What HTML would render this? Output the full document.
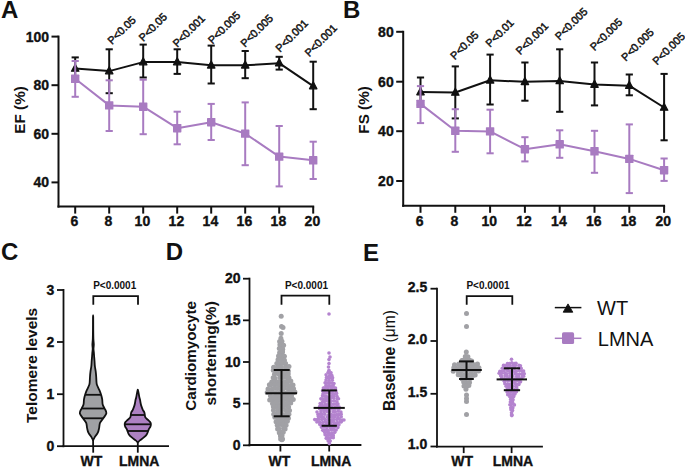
<!DOCTYPE html><html><head><meta charset="utf-8"><style>html,body{margin:0;padding:0;background:#fff;}svg{display:block;}</style></head><body><svg width="685" height="467" viewBox="0 0 685 467" font-family='"Liberation Sans", sans-serif' fill="#111">
<rect width="685" height="467" fill="#fff"/>
<text x="1.00" y="17.85" font-size="24" font-weight="bold" text-anchor="start" >A</text>
<line x1="58.50" y1="35.60" x2="58.50" y2="207.60" stroke="#111" stroke-width="2" stroke-linecap="butt"/>
<line x1="51.50" y1="36.60" x2="58.50" y2="36.60" stroke="#111" stroke-width="2" stroke-linecap="butt"/>
<text x="49.00" y="41.60" font-size="14" font-weight="bold" text-anchor="end" stroke="#111" stroke-width="0.35" >100</text>
<line x1="51.50" y1="85.20" x2="58.50" y2="85.20" stroke="#111" stroke-width="2" stroke-linecap="butt"/>
<text x="49.00" y="90.20" font-size="14" font-weight="bold" text-anchor="end" stroke="#111" stroke-width="0.35" >80</text>
<line x1="51.50" y1="133.80" x2="58.50" y2="133.80" stroke="#111" stroke-width="2" stroke-linecap="butt"/>
<text x="49.00" y="138.80" font-size="14" font-weight="bold" text-anchor="end" stroke="#111" stroke-width="0.35" >60</text>
<line x1="51.50" y1="182.40" x2="58.50" y2="182.40" stroke="#111" stroke-width="2" stroke-linecap="butt"/>
<text x="49.00" y="187.40" font-size="14" font-weight="bold" text-anchor="end" stroke="#111" stroke-width="0.35" >40</text>
<line x1="57.50" y1="206.60" x2="314.20" y2="206.60" stroke="#111" stroke-width="2" stroke-linecap="butt"/>
<line x1="75.20" y1="206.60" x2="75.20" y2="213.60" stroke="#111" stroke-width="2" stroke-linecap="butt"/>
<text x="74.40" y="226.40" font-size="14" font-weight="bold" text-anchor="middle" stroke="#111" stroke-width="0.35" >6</text>
<line x1="109.20" y1="206.60" x2="109.20" y2="213.60" stroke="#111" stroke-width="2" stroke-linecap="butt"/>
<text x="108.40" y="226.40" font-size="14" font-weight="bold" text-anchor="middle" stroke="#111" stroke-width="0.35" >8</text>
<line x1="143.20" y1="206.60" x2="143.20" y2="213.60" stroke="#111" stroke-width="2" stroke-linecap="butt"/>
<text x="142.40" y="226.40" font-size="14" font-weight="bold" text-anchor="middle" stroke="#111" stroke-width="0.35" >10</text>
<line x1="177.20" y1="206.60" x2="177.20" y2="213.60" stroke="#111" stroke-width="2" stroke-linecap="butt"/>
<text x="176.40" y="226.40" font-size="14" font-weight="bold" text-anchor="middle" stroke="#111" stroke-width="0.35" >12</text>
<line x1="211.20" y1="206.60" x2="211.20" y2="213.60" stroke="#111" stroke-width="2" stroke-linecap="butt"/>
<text x="210.40" y="226.40" font-size="14" font-weight="bold" text-anchor="middle" stroke="#111" stroke-width="0.35" >14</text>
<line x1="245.20" y1="206.60" x2="245.20" y2="213.60" stroke="#111" stroke-width="2" stroke-linecap="butt"/>
<text x="244.40" y="226.40" font-size="14" font-weight="bold" text-anchor="middle" stroke="#111" stroke-width="0.35" >16</text>
<line x1="279.20" y1="206.60" x2="279.20" y2="213.60" stroke="#111" stroke-width="2" stroke-linecap="butt"/>
<text x="278.40" y="226.40" font-size="14" font-weight="bold" text-anchor="middle" stroke="#111" stroke-width="0.35" >18</text>
<line x1="313.20" y1="206.60" x2="313.20" y2="213.60" stroke="#111" stroke-width="2" stroke-linecap="butt"/>
<text x="312.40" y="226.40" font-size="14" font-weight="bold" text-anchor="middle" stroke="#111" stroke-width="0.35" >20</text>
<text transform="translate(25.30,109.90) rotate(-90)" font-size="15.3" font-weight="bold" text-anchor="middle">EF (%)</text>
<line x1="75.20" y1="57.40" x2="75.20" y2="78.00" stroke="#111" stroke-width="2" stroke-linecap="butt"/>
<line x1="71.60" y1="57.40" x2="78.80" y2="57.40" stroke="#111" stroke-width="2" stroke-linecap="butt"/>
<line x1="71.60" y1="78.00" x2="78.80" y2="78.00" stroke="#111" stroke-width="2" stroke-linecap="butt"/>
<line x1="109.20" y1="49.30" x2="109.20" y2="93.20" stroke="#111" stroke-width="2" stroke-linecap="butt"/>
<line x1="105.60" y1="49.30" x2="112.80" y2="49.30" stroke="#111" stroke-width="2" stroke-linecap="butt"/>
<line x1="105.60" y1="93.20" x2="112.80" y2="93.20" stroke="#111" stroke-width="2" stroke-linecap="butt"/>
<line x1="143.20" y1="44.60" x2="143.20" y2="77.50" stroke="#111" stroke-width="2" stroke-linecap="butt"/>
<line x1="139.60" y1="44.60" x2="146.80" y2="44.60" stroke="#111" stroke-width="2" stroke-linecap="butt"/>
<line x1="139.60" y1="77.50" x2="146.80" y2="77.50" stroke="#111" stroke-width="2" stroke-linecap="butt"/>
<line x1="177.20" y1="49.30" x2="177.20" y2="73.90" stroke="#111" stroke-width="2" stroke-linecap="butt"/>
<line x1="173.60" y1="49.30" x2="180.80" y2="49.30" stroke="#111" stroke-width="2" stroke-linecap="butt"/>
<line x1="173.60" y1="73.90" x2="180.80" y2="73.90" stroke="#111" stroke-width="2" stroke-linecap="butt"/>
<line x1="211.20" y1="45.60" x2="211.20" y2="83.50" stroke="#111" stroke-width="2" stroke-linecap="butt"/>
<line x1="207.60" y1="45.60" x2="214.80" y2="45.60" stroke="#111" stroke-width="2" stroke-linecap="butt"/>
<line x1="207.60" y1="83.50" x2="214.80" y2="83.50" stroke="#111" stroke-width="2" stroke-linecap="butt"/>
<line x1="245.20" y1="51.00" x2="245.20" y2="78.20" stroke="#111" stroke-width="2" stroke-linecap="butt"/>
<line x1="241.60" y1="51.00" x2="248.80" y2="51.00" stroke="#111" stroke-width="2" stroke-linecap="butt"/>
<line x1="241.60" y1="78.20" x2="248.80" y2="78.20" stroke="#111" stroke-width="2" stroke-linecap="butt"/>
<line x1="279.20" y1="56.80" x2="279.20" y2="69.60" stroke="#111" stroke-width="2" stroke-linecap="butt"/>
<line x1="275.60" y1="56.80" x2="282.80" y2="56.80" stroke="#111" stroke-width="2" stroke-linecap="butt"/>
<line x1="275.60" y1="69.60" x2="282.80" y2="69.60" stroke="#111" stroke-width="2" stroke-linecap="butt"/>
<line x1="313.20" y1="61.70" x2="313.20" y2="109.20" stroke="#111" stroke-width="2" stroke-linecap="butt"/>
<line x1="309.60" y1="61.70" x2="316.80" y2="61.70" stroke="#111" stroke-width="2" stroke-linecap="butt"/>
<line x1="309.60" y1="109.20" x2="316.80" y2="109.20" stroke="#111" stroke-width="2" stroke-linecap="butt"/>
<polyline points="75.20,68.50 109.20,71.10 143.20,62.10 177.20,62.10 211.20,65.30 245.20,65.30 279.20,63.20 313.20,86.10" fill="none" stroke="#111" stroke-width="2" stroke-linejoin="round"/>
<path d="M71.50,71.20 L78.90,71.20 L75.20,64.20 Z" fill="#111" stroke="#111" stroke-width="1.3" stroke-linejoin="round"/>
<path d="M105.50,73.80 L112.90,73.80 L109.20,66.80 Z" fill="#111" stroke="#111" stroke-width="1.3" stroke-linejoin="round"/>
<path d="M139.50,64.80 L146.90,64.80 L143.20,57.80 Z" fill="#111" stroke="#111" stroke-width="1.3" stroke-linejoin="round"/>
<path d="M173.50,64.80 L180.90,64.80 L177.20,57.80 Z" fill="#111" stroke="#111" stroke-width="1.3" stroke-linejoin="round"/>
<path d="M207.50,68.00 L214.90,68.00 L211.20,61.00 Z" fill="#111" stroke="#111" stroke-width="1.3" stroke-linejoin="round"/>
<path d="M241.50,68.00 L248.90,68.00 L245.20,61.00 Z" fill="#111" stroke="#111" stroke-width="1.3" stroke-linejoin="round"/>
<path d="M275.50,65.90 L282.90,65.90 L279.20,58.90 Z" fill="#111" stroke="#111" stroke-width="1.3" stroke-linejoin="round"/>
<path d="M309.50,88.80 L316.90,88.80 L313.20,81.80 Z" fill="#111" stroke="#111" stroke-width="1.3" stroke-linejoin="round"/>
<line x1="75.20" y1="61.00" x2="75.20" y2="96.80" stroke="#a87bc1" stroke-width="2" stroke-linecap="butt"/>
<line x1="71.60" y1="61.00" x2="78.80" y2="61.00" stroke="#a87bc1" stroke-width="2" stroke-linecap="butt"/>
<line x1="71.60" y1="96.80" x2="78.80" y2="96.80" stroke="#a87bc1" stroke-width="2" stroke-linecap="butt"/>
<line x1="109.20" y1="80.30" x2="109.20" y2="131.00" stroke="#a87bc1" stroke-width="2" stroke-linecap="butt"/>
<line x1="105.60" y1="80.30" x2="112.80" y2="80.30" stroke="#a87bc1" stroke-width="2" stroke-linecap="butt"/>
<line x1="105.60" y1="131.00" x2="112.80" y2="131.00" stroke="#a87bc1" stroke-width="2" stroke-linecap="butt"/>
<line x1="143.20" y1="79.70" x2="143.20" y2="134.20" stroke="#a87bc1" stroke-width="2" stroke-linecap="butt"/>
<line x1="139.60" y1="79.70" x2="146.80" y2="79.70" stroke="#a87bc1" stroke-width="2" stroke-linecap="butt"/>
<line x1="139.60" y1="134.20" x2="146.80" y2="134.20" stroke="#a87bc1" stroke-width="2" stroke-linecap="butt"/>
<line x1="177.20" y1="111.70" x2="177.20" y2="144.30" stroke="#a87bc1" stroke-width="2" stroke-linecap="butt"/>
<line x1="173.60" y1="111.70" x2="180.80" y2="111.70" stroke="#a87bc1" stroke-width="2" stroke-linecap="butt"/>
<line x1="173.60" y1="144.30" x2="180.80" y2="144.30" stroke="#a87bc1" stroke-width="2" stroke-linecap="butt"/>
<line x1="211.20" y1="103.90" x2="211.20" y2="140.00" stroke="#a87bc1" stroke-width="2" stroke-linecap="butt"/>
<line x1="207.60" y1="103.90" x2="214.80" y2="103.90" stroke="#a87bc1" stroke-width="2" stroke-linecap="butt"/>
<line x1="207.60" y1="140.00" x2="214.80" y2="140.00" stroke="#a87bc1" stroke-width="2" stroke-linecap="butt"/>
<line x1="245.20" y1="102.40" x2="245.20" y2="165.20" stroke="#a87bc1" stroke-width="2" stroke-linecap="butt"/>
<line x1="241.60" y1="102.40" x2="248.80" y2="102.40" stroke="#a87bc1" stroke-width="2" stroke-linecap="butt"/>
<line x1="241.60" y1="165.20" x2="248.80" y2="165.20" stroke="#a87bc1" stroke-width="2" stroke-linecap="butt"/>
<line x1="279.20" y1="126.00" x2="279.20" y2="186.40" stroke="#a87bc1" stroke-width="2" stroke-linecap="butt"/>
<line x1="275.60" y1="126.00" x2="282.80" y2="126.00" stroke="#a87bc1" stroke-width="2" stroke-linecap="butt"/>
<line x1="275.60" y1="186.40" x2="282.80" y2="186.40" stroke="#a87bc1" stroke-width="2" stroke-linecap="butt"/>
<line x1="313.20" y1="141.70" x2="313.20" y2="179.00" stroke="#a87bc1" stroke-width="2" stroke-linecap="butt"/>
<line x1="309.60" y1="141.70" x2="316.80" y2="141.70" stroke="#a87bc1" stroke-width="2" stroke-linecap="butt"/>
<line x1="309.60" y1="179.00" x2="316.80" y2="179.00" stroke="#a87bc1" stroke-width="2" stroke-linecap="butt"/>
<polyline points="75.20,78.80 109.20,105.40 143.20,106.70 177.20,128.20 211.20,122.20 245.20,133.60 279.20,156.60 313.20,160.30" fill="none" stroke="#a87bc1" stroke-width="2" stroke-linejoin="round"/>
<rect x="71.00" y="74.60" width="8.4" height="8.4" fill="#a87bc1" rx="0.6"/>
<rect x="105.00" y="101.20" width="8.4" height="8.4" fill="#a87bc1" rx="0.6"/>
<rect x="139.00" y="102.50" width="8.4" height="8.4" fill="#a87bc1" rx="0.6"/>
<rect x="173.00" y="124.00" width="8.4" height="8.4" fill="#a87bc1" rx="0.6"/>
<rect x="207.00" y="118.00" width="8.4" height="8.4" fill="#a87bc1" rx="0.6"/>
<rect x="241.00" y="129.40" width="8.4" height="8.4" fill="#a87bc1" rx="0.6"/>
<rect x="275.00" y="152.40" width="8.4" height="8.4" fill="#a87bc1" rx="0.6"/>
<rect x="309.00" y="156.10" width="8.4" height="8.4" fill="#a87bc1" rx="0.6"/>
<text transform="translate(112.00,45.10) rotate(-45)" font-size="10.8" font-weight="normal" stroke="#111" stroke-width="0.5">P&lt;0.05</text>
<text transform="translate(143.30,42.00) rotate(-45)" font-size="10.8" font-weight="normal" stroke="#111" stroke-width="0.5">P&lt;0.05</text>
<text transform="translate(177.20,47.80) rotate(-45)" font-size="10.8" font-weight="normal" stroke="#111" stroke-width="0.5">P&lt;0.001</text>
<text transform="translate(212.40,44.60) rotate(-45)" font-size="10.8" font-weight="normal" stroke="#111" stroke-width="0.5">P&lt;0.005</text>
<text transform="translate(245.00,47.70) rotate(-45)" font-size="10.8" font-weight="normal" stroke="#111" stroke-width="0.5">P&lt;0.005</text>
<text transform="translate(280.10,52.70) rotate(-45)" font-size="10.8" font-weight="normal" stroke="#111" stroke-width="0.5">P&lt;0.001</text>
<text transform="translate(309.20,57.30) rotate(-45)" font-size="10.8" font-weight="normal" stroke="#111" stroke-width="0.5">P&lt;0.001</text>
<text x="342.90" y="17.80" font-size="24" font-weight="bold" text-anchor="start" >B</text>
<line x1="403.20" y1="30.80" x2="403.20" y2="206.80" stroke="#111" stroke-width="2" stroke-linecap="butt"/>
<line x1="396.20" y1="31.80" x2="403.20" y2="31.80" stroke="#111" stroke-width="2" stroke-linecap="butt"/>
<text x="393.70" y="36.80" font-size="14" font-weight="bold" text-anchor="end" stroke="#111" stroke-width="0.35" >80</text>
<line x1="396.20" y1="81.70" x2="403.20" y2="81.70" stroke="#111" stroke-width="2" stroke-linecap="butt"/>
<text x="393.70" y="86.70" font-size="14" font-weight="bold" text-anchor="end" stroke="#111" stroke-width="0.35" >60</text>
<line x1="396.20" y1="131.20" x2="403.20" y2="131.20" stroke="#111" stroke-width="2" stroke-linecap="butt"/>
<text x="393.70" y="136.20" font-size="14" font-weight="bold" text-anchor="end" stroke="#111" stroke-width="0.35" >40</text>
<line x1="396.20" y1="181.00" x2="403.20" y2="181.00" stroke="#111" stroke-width="2" stroke-linecap="butt"/>
<text x="393.70" y="186.00" font-size="14" font-weight="bold" text-anchor="end" stroke="#111" stroke-width="0.35" >20</text>
<line x1="402.20" y1="205.80" x2="665.10" y2="205.80" stroke="#111" stroke-width="2" stroke-linecap="butt"/>
<line x1="420.50" y1="205.80" x2="420.50" y2="212.80" stroke="#111" stroke-width="2" stroke-linecap="butt"/>
<text x="419.70" y="225.60" font-size="14" font-weight="bold" text-anchor="middle" stroke="#111" stroke-width="0.35" >6</text>
<line x1="455.30" y1="205.80" x2="455.30" y2="212.80" stroke="#111" stroke-width="2" stroke-linecap="butt"/>
<text x="454.50" y="225.60" font-size="14" font-weight="bold" text-anchor="middle" stroke="#111" stroke-width="0.35" >8</text>
<line x1="490.10" y1="205.80" x2="490.10" y2="212.80" stroke="#111" stroke-width="2" stroke-linecap="butt"/>
<text x="489.30" y="225.60" font-size="14" font-weight="bold" text-anchor="middle" stroke="#111" stroke-width="0.35" >10</text>
<line x1="524.90" y1="205.80" x2="524.90" y2="212.80" stroke="#111" stroke-width="2" stroke-linecap="butt"/>
<text x="524.10" y="225.60" font-size="14" font-weight="bold" text-anchor="middle" stroke="#111" stroke-width="0.35" >12</text>
<line x1="559.70" y1="205.80" x2="559.70" y2="212.80" stroke="#111" stroke-width="2" stroke-linecap="butt"/>
<text x="558.90" y="225.60" font-size="14" font-weight="bold" text-anchor="middle" stroke="#111" stroke-width="0.35" >14</text>
<line x1="594.50" y1="205.80" x2="594.50" y2="212.80" stroke="#111" stroke-width="2" stroke-linecap="butt"/>
<text x="593.70" y="225.60" font-size="14" font-weight="bold" text-anchor="middle" stroke="#111" stroke-width="0.35" >16</text>
<line x1="629.30" y1="205.80" x2="629.30" y2="212.80" stroke="#111" stroke-width="2" stroke-linecap="butt"/>
<text x="628.50" y="225.60" font-size="14" font-weight="bold" text-anchor="middle" stroke="#111" stroke-width="0.35" >18</text>
<line x1="664.10" y1="205.80" x2="664.10" y2="212.80" stroke="#111" stroke-width="2" stroke-linecap="butt"/>
<text x="663.30" y="225.60" font-size="14" font-weight="bold" text-anchor="middle" stroke="#111" stroke-width="0.35" >20</text>
<text transform="translate(369.30,109.90) rotate(-90)" font-size="15.3" font-weight="bold" text-anchor="middle">FS (%)</text>
<line x1="420.50" y1="77.50" x2="420.50" y2="105.00" stroke="#111" stroke-width="2" stroke-linecap="butt"/>
<line x1="416.90" y1="77.50" x2="424.10" y2="77.50" stroke="#111" stroke-width="2" stroke-linecap="butt"/>
<line x1="416.90" y1="105.00" x2="424.10" y2="105.00" stroke="#111" stroke-width="2" stroke-linecap="butt"/>
<line x1="455.30" y1="66.40" x2="455.30" y2="118.40" stroke="#111" stroke-width="2" stroke-linecap="butt"/>
<line x1="451.70" y1="66.40" x2="458.90" y2="66.40" stroke="#111" stroke-width="2" stroke-linecap="butt"/>
<line x1="451.70" y1="118.40" x2="458.90" y2="118.40" stroke="#111" stroke-width="2" stroke-linecap="butt"/>
<line x1="490.10" y1="54.60" x2="490.10" y2="104.50" stroke="#111" stroke-width="2" stroke-linecap="butt"/>
<line x1="486.50" y1="54.60" x2="493.70" y2="54.60" stroke="#111" stroke-width="2" stroke-linecap="butt"/>
<line x1="486.50" y1="104.50" x2="493.70" y2="104.50" stroke="#111" stroke-width="2" stroke-linecap="butt"/>
<line x1="524.90" y1="62.50" x2="524.90" y2="100.70" stroke="#111" stroke-width="2" stroke-linecap="butt"/>
<line x1="521.30" y1="62.50" x2="528.50" y2="62.50" stroke="#111" stroke-width="2" stroke-linecap="butt"/>
<line x1="521.30" y1="100.70" x2="528.50" y2="100.70" stroke="#111" stroke-width="2" stroke-linecap="butt"/>
<line x1="559.70" y1="49.30" x2="559.70" y2="111.80" stroke="#111" stroke-width="2" stroke-linecap="butt"/>
<line x1="556.10" y1="49.30" x2="563.30" y2="49.30" stroke="#111" stroke-width="2" stroke-linecap="butt"/>
<line x1="556.10" y1="111.80" x2="563.30" y2="111.80" stroke="#111" stroke-width="2" stroke-linecap="butt"/>
<line x1="594.50" y1="62.50" x2="594.50" y2="105.40" stroke="#111" stroke-width="2" stroke-linecap="butt"/>
<line x1="590.90" y1="62.50" x2="598.10" y2="62.50" stroke="#111" stroke-width="2" stroke-linecap="butt"/>
<line x1="590.90" y1="105.40" x2="598.10" y2="105.40" stroke="#111" stroke-width="2" stroke-linecap="butt"/>
<line x1="629.30" y1="74.50" x2="629.30" y2="95.30" stroke="#111" stroke-width="2" stroke-linecap="butt"/>
<line x1="625.70" y1="74.50" x2="632.90" y2="74.50" stroke="#111" stroke-width="2" stroke-linecap="butt"/>
<line x1="625.70" y1="95.30" x2="632.90" y2="95.30" stroke="#111" stroke-width="2" stroke-linecap="butt"/>
<line x1="664.10" y1="73.90" x2="664.10" y2="140.30" stroke="#111" stroke-width="2" stroke-linecap="butt"/>
<line x1="660.50" y1="73.90" x2="667.70" y2="73.90" stroke="#111" stroke-width="2" stroke-linecap="butt"/>
<line x1="660.50" y1="140.30" x2="667.70" y2="140.30" stroke="#111" stroke-width="2" stroke-linecap="butt"/>
<polyline points="420.50,92.10 455.30,92.50 490.10,80.30 524.90,81.80 559.70,81.00 594.50,84.60 629.30,85.70 664.10,107.50" fill="none" stroke="#111" stroke-width="2" stroke-linejoin="round"/>
<path d="M416.80,94.80 L424.20,94.80 L420.50,87.80 Z" fill="#111" stroke="#111" stroke-width="1.3" stroke-linejoin="round"/>
<path d="M451.60,95.20 L459.00,95.20 L455.30,88.20 Z" fill="#111" stroke="#111" stroke-width="1.3" stroke-linejoin="round"/>
<path d="M486.40,83.00 L493.80,83.00 L490.10,76.00 Z" fill="#111" stroke="#111" stroke-width="1.3" stroke-linejoin="round"/>
<path d="M521.20,84.50 L528.60,84.50 L524.90,77.50 Z" fill="#111" stroke="#111" stroke-width="1.3" stroke-linejoin="round"/>
<path d="M556.00,83.70 L563.40,83.70 L559.70,76.70 Z" fill="#111" stroke="#111" stroke-width="1.3" stroke-linejoin="round"/>
<path d="M590.80,87.30 L598.20,87.30 L594.50,80.30 Z" fill="#111" stroke="#111" stroke-width="1.3" stroke-linejoin="round"/>
<path d="M625.60,88.40 L633.00,88.40 L629.30,81.40 Z" fill="#111" stroke="#111" stroke-width="1.3" stroke-linejoin="round"/>
<path d="M660.40,110.20 L667.80,110.20 L664.10,103.20 Z" fill="#111" stroke="#111" stroke-width="1.3" stroke-linejoin="round"/>
<line x1="420.50" y1="86.10" x2="420.50" y2="123.10" stroke="#a87bc1" stroke-width="2" stroke-linecap="butt"/>
<line x1="416.90" y1="86.10" x2="424.10" y2="86.10" stroke="#a87bc1" stroke-width="2" stroke-linecap="butt"/>
<line x1="416.90" y1="123.10" x2="424.10" y2="123.10" stroke="#a87bc1" stroke-width="2" stroke-linecap="butt"/>
<line x1="455.30" y1="109.20" x2="455.30" y2="151.80" stroke="#a87bc1" stroke-width="2" stroke-linecap="butt"/>
<line x1="451.70" y1="109.20" x2="458.90" y2="109.20" stroke="#a87bc1" stroke-width="2" stroke-linecap="butt"/>
<line x1="451.70" y1="151.80" x2="458.90" y2="151.80" stroke="#a87bc1" stroke-width="2" stroke-linecap="butt"/>
<line x1="490.10" y1="109.70" x2="490.10" y2="153.30" stroke="#a87bc1" stroke-width="2" stroke-linecap="butt"/>
<line x1="486.50" y1="109.70" x2="493.70" y2="109.70" stroke="#a87bc1" stroke-width="2" stroke-linecap="butt"/>
<line x1="486.50" y1="153.30" x2="493.70" y2="153.30" stroke="#a87bc1" stroke-width="2" stroke-linecap="butt"/>
<line x1="524.90" y1="137.20" x2="524.90" y2="161.40" stroke="#a87bc1" stroke-width="2" stroke-linecap="butt"/>
<line x1="521.30" y1="137.20" x2="528.50" y2="137.20" stroke="#a87bc1" stroke-width="2" stroke-linecap="butt"/>
<line x1="521.30" y1="161.40" x2="528.50" y2="161.40" stroke="#a87bc1" stroke-width="2" stroke-linecap="butt"/>
<line x1="559.70" y1="130.30" x2="559.70" y2="157.80" stroke="#a87bc1" stroke-width="2" stroke-linecap="butt"/>
<line x1="556.10" y1="130.30" x2="563.30" y2="130.30" stroke="#a87bc1" stroke-width="2" stroke-linecap="butt"/>
<line x1="556.10" y1="157.80" x2="563.30" y2="157.80" stroke="#a87bc1" stroke-width="2" stroke-linecap="butt"/>
<line x1="594.50" y1="130.80" x2="594.50" y2="172.80" stroke="#a87bc1" stroke-width="2" stroke-linecap="butt"/>
<line x1="590.90" y1="130.80" x2="598.10" y2="130.80" stroke="#a87bc1" stroke-width="2" stroke-linecap="butt"/>
<line x1="590.90" y1="172.80" x2="598.10" y2="172.80" stroke="#a87bc1" stroke-width="2" stroke-linecap="butt"/>
<line x1="629.30" y1="124.40" x2="629.30" y2="193.10" stroke="#a87bc1" stroke-width="2" stroke-linecap="butt"/>
<line x1="625.70" y1="124.40" x2="632.90" y2="124.40" stroke="#a87bc1" stroke-width="2" stroke-linecap="butt"/>
<line x1="625.70" y1="193.10" x2="632.90" y2="193.10" stroke="#a87bc1" stroke-width="2" stroke-linecap="butt"/>
<line x1="664.10" y1="158.50" x2="664.10" y2="180.90" stroke="#a87bc1" stroke-width="2" stroke-linecap="butt"/>
<line x1="660.50" y1="158.50" x2="667.70" y2="158.50" stroke="#a87bc1" stroke-width="2" stroke-linecap="butt"/>
<line x1="660.50" y1="180.90" x2="667.70" y2="180.90" stroke="#a87bc1" stroke-width="2" stroke-linecap="butt"/>
<polyline points="420.50,103.90 455.30,130.80 490.10,131.40 524.90,149.20 559.70,144.30 594.50,151.30 629.30,158.90 664.10,170.20" fill="none" stroke="#a87bc1" stroke-width="2" stroke-linejoin="round"/>
<rect x="416.30" y="99.70" width="8.4" height="8.4" fill="#a87bc1" rx="0.6"/>
<rect x="451.10" y="126.60" width="8.4" height="8.4" fill="#a87bc1" rx="0.6"/>
<rect x="485.90" y="127.20" width="8.4" height="8.4" fill="#a87bc1" rx="0.6"/>
<rect x="520.70" y="145.00" width="8.4" height="8.4" fill="#a87bc1" rx="0.6"/>
<rect x="555.50" y="140.10" width="8.4" height="8.4" fill="#a87bc1" rx="0.6"/>
<rect x="590.30" y="147.10" width="8.4" height="8.4" fill="#a87bc1" rx="0.6"/>
<rect x="625.10" y="154.70" width="8.4" height="8.4" fill="#a87bc1" rx="0.6"/>
<rect x="659.90" y="166.00" width="8.4" height="8.4" fill="#a87bc1" rx="0.6"/>
<text transform="translate(454.80,60.20) rotate(-45)" font-size="10.8" font-weight="normal" stroke="#111" stroke-width="0.5">P&lt;0.05</text>
<text transform="translate(490.10,47.80) rotate(-45)" font-size="10.8" font-weight="normal" stroke="#111" stroke-width="0.5">P&lt;0.01</text>
<text transform="translate(520.30,55.30) rotate(-45)" font-size="10.8" font-weight="normal" stroke="#111" stroke-width="0.5">P&lt;0.001</text>
<text transform="translate(559.50,40.80) rotate(-45)" font-size="10.8" font-weight="normal" stroke="#111" stroke-width="0.5">P&lt;0.005</text>
<text transform="translate(594.40,51.30) rotate(-45)" font-size="10.8" font-weight="normal" stroke="#111" stroke-width="0.5">P&lt;0.005</text>
<text transform="translate(625.80,61.70) rotate(-45)" font-size="10.8" font-weight="normal" stroke="#111" stroke-width="0.5">P&lt;0.005</text>
<text transform="translate(657.00,65.60) rotate(-45)" font-size="10.8" font-weight="normal" stroke="#111" stroke-width="0.5">P&lt;0.005</text>
<text x="1.00" y="260.40" font-size="24" font-weight="bold" text-anchor="start" >C</text>
<line x1="63.50" y1="289.00" x2="63.50" y2="447.20" stroke="#111" stroke-width="1.8" stroke-linecap="butt"/>
<line x1="57.00" y1="290.00" x2="63.50" y2="290.00" stroke="#111" stroke-width="1.8" stroke-linecap="butt"/>
<text x="54.30" y="294.60" font-size="14" font-weight="bold" text-anchor="end" stroke="#111" stroke-width="0.35" >3</text>
<line x1="57.00" y1="342.00" x2="63.50" y2="342.00" stroke="#111" stroke-width="1.8" stroke-linecap="butt"/>
<text x="54.30" y="346.60" font-size="14" font-weight="bold" text-anchor="end" stroke="#111" stroke-width="0.35" >2</text>
<line x1="57.00" y1="394.20" x2="63.50" y2="394.20" stroke="#111" stroke-width="1.8" stroke-linecap="butt"/>
<text x="54.30" y="398.80" font-size="14" font-weight="bold" text-anchor="end" stroke="#111" stroke-width="0.35" >1</text>
<line x1="57.00" y1="446.20" x2="63.50" y2="446.20" stroke="#111" stroke-width="1.8" stroke-linecap="butt"/>
<text x="54.30" y="450.80" font-size="14" font-weight="bold" text-anchor="end" stroke="#111" stroke-width="0.35" >0</text>
<line x1="62.50" y1="446.20" x2="169.00" y2="446.20" stroke="#111" stroke-width="1.8" stroke-linecap="butt"/>
<line x1="93.20" y1="446.20" x2="93.20" y2="452.70" stroke="#111" stroke-width="1.8" stroke-linecap="butt"/>
<text x="91.50" y="465.80" font-size="14" font-weight="bold" text-anchor="middle" stroke="#111" stroke-width="0.35" >WT</text>
<line x1="137.80" y1="446.20" x2="137.80" y2="452.70" stroke="#111" stroke-width="1.8" stroke-linecap="butt"/>
<text x="139.20" y="465.80" font-size="14" font-weight="bold" text-anchor="middle" stroke="#111" stroke-width="0.35" >LMNA</text>
<text transform="translate(36.50,365.40) rotate(-90)" font-size="15.5" font-weight="bold" text-anchor="middle">Telomere levels</text>
<path d="M93.30,304.80 V296.20 H138.00 V304.80" fill="none" stroke="#111" stroke-width="1.8"/>
<text x="114.70" y="288.70" font-size="10" font-weight="bold" text-anchor="middle" >P&lt;0.0001</text>
<path d="M93.20,316.80 C93.24,319.00 93.22,326.30 93.25,330.00 C93.28,333.70 93.31,336.57 93.40,339.00 C93.49,341.43 93.78,342.93 93.80,344.60 C93.82,346.27 93.48,347.60 93.50,349.00 C93.52,350.40 93.80,351.83 93.90,353.00 C94.00,354.17 94.00,354.72 94.10,356.00 C94.20,357.28 94.38,359.03 94.50,360.70 C94.62,362.37 94.65,364.22 94.85,366.00 C95.05,367.78 95.47,369.62 95.70,371.40 C95.92,373.18 96.07,374.92 96.20,376.70 C96.33,378.48 96.37,380.72 96.50,382.10 C96.63,383.48 96.52,383.65 97.00,385.00 C97.48,386.35 98.72,388.57 99.40,390.20 C100.08,391.83 100.63,393.27 101.10,394.80 C101.57,396.33 101.93,397.77 102.20,399.40 C102.47,401.03 102.30,403.08 102.70,404.60 C103.10,406.12 103.98,407.08 104.60,408.50 C105.22,409.92 106.62,411.47 106.40,413.10 C106.18,414.73 104.37,416.67 103.30,418.30 C102.23,419.93 100.70,421.27 100.00,422.90 C99.30,424.53 99.47,426.47 99.10,428.10 C98.73,429.73 98.47,431.28 97.80,432.70 C97.13,434.12 95.85,435.40 95.10,436.60 C94.35,437.80 93.67,439.35 93.30,439.90 C92.93,440.45 93.27,440.45 92.90,439.90 C92.53,439.35 91.85,437.80 91.10,436.60 C90.35,435.40 89.07,434.12 88.40,432.70 C87.73,431.28 87.47,429.73 87.10,428.10 C86.73,426.47 86.90,424.53 86.20,422.90 C85.50,421.27 83.97,419.93 82.90,418.30 C81.83,416.67 80.02,414.73 79.80,413.10 C79.58,411.47 80.98,409.92 81.60,408.50 C82.22,407.08 83.10,406.12 83.50,404.60 C83.90,403.08 83.73,401.03 84.00,399.40 C84.27,397.77 84.63,396.33 85.10,394.80 C85.57,393.27 86.12,391.83 86.80,390.20 C87.48,388.57 88.72,386.35 89.20,385.00 C89.68,383.65 89.57,383.48 89.70,382.10 C89.83,380.72 89.87,378.48 90.00,376.70 C90.13,374.92 90.28,373.18 90.50,371.40 C90.72,369.62 91.15,367.78 91.35,366.00 C91.55,364.22 91.57,362.37 91.70,360.70 C91.82,359.03 92.00,357.28 92.10,356.00 C92.20,354.72 92.20,354.17 92.30,353.00 C92.40,351.83 92.68,350.40 92.70,349.00 C92.72,347.60 92.38,346.27 92.40,344.60 C92.42,342.93 92.71,341.43 92.80,339.00 C92.89,336.57 92.92,333.70 92.95,330.00 C92.98,326.30 92.96,319.00 93.00,316.80 C93.04,314.60 93.16,314.60 93.20,316.80Z" fill="#a0a1a4" stroke="#111" stroke-width="1.8" stroke-linejoin="round"/>
<line x1="85.20" y1="394.80" x2="101.00" y2="394.80" stroke="#111" stroke-width="1.8" stroke-linecap="butt"/>
<line x1="81.70" y1="408.50" x2="104.50" y2="408.50" stroke="#111" stroke-width="1.8" stroke-linecap="butt"/>
<line x1="83.00" y1="418.30" x2="103.20" y2="418.30" stroke="#111" stroke-width="1.8" stroke-linecap="butt"/>
<line x1="93.10" y1="439.90" x2="93.10" y2="446.20" stroke="#111" stroke-width="1.8" stroke-linecap="butt"/>
<path d="M137.90,390.00 C138.06,390.57 138.40,392.15 138.65,393.40 C138.90,394.65 139.16,396.40 139.40,397.50 C139.64,398.60 139.90,399.08 140.10,400.00 C140.30,400.92 140.40,402.02 140.60,403.00 C140.80,403.98 140.93,404.77 141.30,405.90 C141.67,407.03 142.30,408.73 142.80,409.80 C143.30,410.87 143.97,411.47 144.30,412.30 C144.63,413.13 144.63,413.98 144.80,414.80 C144.97,415.62 144.82,416.38 145.30,417.20 C145.78,418.02 146.88,418.88 147.70,419.70 C148.52,420.52 149.67,421.37 150.20,422.10 C150.73,422.83 150.87,423.35 150.90,424.10 C150.93,424.85 150.73,425.78 150.40,426.60 C150.07,427.42 149.27,428.27 148.90,429.00 C148.53,429.73 148.57,430.10 148.20,431.00 C147.83,431.90 147.43,433.33 146.70,434.40 C145.97,435.47 144.93,436.40 143.80,437.40 C142.67,438.40 140.88,439.58 139.90,440.40 C138.92,441.22 138.27,441.98 137.90,442.30 C137.53,442.62 138.07,442.62 137.70,442.30 C137.33,441.98 136.68,441.22 135.70,440.40 C134.72,439.58 132.93,438.40 131.80,437.40 C130.67,436.40 129.63,435.47 128.90,434.40 C128.17,433.33 127.77,431.90 127.40,431.00 C127.03,430.10 127.07,429.73 126.70,429.00 C126.33,428.27 125.53,427.42 125.20,426.60 C124.87,425.78 124.67,424.85 124.70,424.10 C124.73,423.35 124.87,422.83 125.40,422.10 C125.93,421.37 127.08,420.52 127.90,419.70 C128.72,418.88 129.82,418.02 130.30,417.20 C130.78,416.38 130.63,415.62 130.80,414.80 C130.97,413.98 130.97,413.13 131.30,412.30 C131.63,411.47 132.30,410.87 132.80,409.80 C133.30,408.73 133.93,407.03 134.30,405.90 C134.67,404.77 134.80,403.98 135.00,403.00 C135.20,402.02 135.30,400.92 135.50,400.00 C135.70,399.08 135.96,398.60 136.20,397.50 C136.44,396.40 136.70,394.65 136.95,393.40 C137.20,392.15 137.54,390.57 137.70,390.00 C137.86,389.43 137.74,389.43 137.90,390.00Z" fill="#ad81c2" stroke="#111" stroke-width="1.8" stroke-linejoin="round"/>
<line x1="130.80" y1="415.00" x2="144.80" y2="415.00" stroke="#111" stroke-width="1.8" stroke-linecap="butt"/>
<line x1="124.80" y1="424.30" x2="150.80" y2="424.30" stroke="#111" stroke-width="1.8" stroke-linecap="butt"/>
<line x1="127.50" y1="431.00" x2="148.10" y2="431.00" stroke="#111" stroke-width="1.8" stroke-linecap="butt"/>
<line x1="137.80" y1="442.30" x2="137.80" y2="446.20" stroke="#111" stroke-width="1.8" stroke-linecap="butt"/>
<text x="165.80" y="260.30" font-size="24" font-weight="bold" text-anchor="start" >D</text>
<line x1="249.50" y1="277.70" x2="249.50" y2="446.30" stroke="#111" stroke-width="1.8" stroke-linecap="butt"/>
<line x1="243.00" y1="445.30" x2="249.50" y2="445.30" stroke="#111" stroke-width="1.8" stroke-linecap="butt"/>
<text x="240.50" y="449.90" font-size="14" font-weight="bold" text-anchor="end" stroke="#111" stroke-width="0.35" >0</text>
<line x1="243.00" y1="403.65" x2="249.50" y2="403.65" stroke="#111" stroke-width="1.8" stroke-linecap="butt"/>
<text x="240.50" y="408.25" font-size="14" font-weight="bold" text-anchor="end" stroke="#111" stroke-width="0.35" >5</text>
<line x1="243.00" y1="362.00" x2="249.50" y2="362.00" stroke="#111" stroke-width="1.8" stroke-linecap="butt"/>
<text x="240.50" y="366.60" font-size="14" font-weight="bold" text-anchor="end" stroke="#111" stroke-width="0.35" >10</text>
<line x1="243.00" y1="320.35" x2="249.50" y2="320.35" stroke="#111" stroke-width="1.8" stroke-linecap="butt"/>
<text x="240.50" y="324.95" font-size="14" font-weight="bold" text-anchor="end" stroke="#111" stroke-width="0.35" >15</text>
<line x1="243.00" y1="278.70" x2="249.50" y2="278.70" stroke="#111" stroke-width="1.8" stroke-linecap="butt"/>
<text x="240.50" y="283.30" font-size="14" font-weight="bold" text-anchor="end" stroke="#111" stroke-width="0.35" >20</text>
<line x1="248.50" y1="445.00" x2="361.40" y2="445.00" stroke="#111" stroke-width="1.8" stroke-linecap="butt"/>
<line x1="280.40" y1="445.00" x2="280.40" y2="451.50" stroke="#111" stroke-width="1.8" stroke-linecap="butt"/>
<text x="279.50" y="465.70" font-size="14" font-weight="bold" text-anchor="middle" stroke="#111" stroke-width="0.35" >WT</text>
<line x1="329.20" y1="445.00" x2="329.20" y2="451.50" stroke="#111" stroke-width="1.8" stroke-linecap="butt"/>
<text x="331.10" y="465.70" font-size="14" font-weight="bold" text-anchor="middle" stroke="#111" stroke-width="0.35" >LMNA</text>
<text transform="translate(196.20,355.90) rotate(-90)" font-size="15.2" font-weight="bold" text-anchor="middle">Cardiomyocyte</text>
<text transform="translate(215.50,353.30) rotate(-90)" font-size="15.5" font-weight="bold" text-anchor="middle">shortening(%)</text>
<path d="M281.50,304.70 V295.70 H329.30 V304.70" fill="none" stroke="#111" stroke-width="1.8"/>
<text x="306.50" y="288.90" font-size="10" font-weight="bold" text-anchor="middle" >P&lt;0.0001</text>
<g fill="#a1a1a5"><circle cx="280.88" cy="338.15" r="2.5"/><circle cx="280.77" cy="341.49" r="2.5"/><circle cx="281.34" cy="341.63" r="2.5"/><circle cx="279.61" cy="341.56" r="2.5"/><circle cx="281.92" cy="341.22" r="2.5"/><circle cx="279.90" cy="344.87" r="2.5"/><circle cx="280.97" cy="345.38" r="2.5"/><circle cx="283.62" cy="345.33" r="2.5"/><circle cx="281.07" cy="348.42" r="2.5"/><circle cx="282.53" cy="348.66" r="2.5"/><circle cx="279.27" cy="348.49" r="2.5"/><circle cx="282.67" cy="349.19" r="2.5"/><circle cx="279.59" cy="352.64" r="2.5"/><circle cx="281.15" cy="352.55" r="2.5"/><circle cx="282.58" cy="352.06" r="2.5"/><circle cx="280.15" cy="356.05" r="2.5"/><circle cx="282.45" cy="356.21" r="2.5"/><circle cx="278.51" cy="355.92" r="2.5"/><circle cx="284.39" cy="356.32" r="2.5"/><circle cx="277.99" cy="359.78" r="2.5"/><circle cx="281.75" cy="359.98" r="2.5"/><circle cx="284.44" cy="360.23" r="2.5"/><circle cx="279.22" cy="363.63" r="2.5"/><circle cx="282.86" cy="363.36" r="2.5"/><circle cx="276.79" cy="363.54" r="2.5"/><circle cx="285.57" cy="363.45" r="2.5"/><circle cx="273.61" cy="367.20" r="2.5"/><circle cx="277.68" cy="367.08" r="2.5"/><circle cx="281.25" cy="367.34" r="2.5"/><circle cx="285.57" cy="366.97" r="2.5"/><circle cx="288.96" cy="366.56" r="2.5"/><circle cx="275.78" cy="371.12" r="2.5"/><circle cx="279.79" cy="370.41" r="2.5"/><circle cx="283.06" cy="370.79" r="2.5"/><circle cx="286.42" cy="370.59" r="2.5"/><circle cx="273.31" cy="370.24" r="2.5"/><circle cx="288.37" cy="370.89" r="2.5"/><circle cx="274.47" cy="374.14" r="2.5"/><circle cx="278.48" cy="373.83" r="2.5"/><circle cx="281.24" cy="374.30" r="2.5"/><circle cx="285.02" cy="374.57" r="2.5"/><circle cx="288.26" cy="374.03" r="2.5"/><circle cx="274.95" cy="378.26" r="2.5"/><circle cx="279.79" cy="377.53" r="2.5"/><circle cx="282.97" cy="377.61" r="2.5"/><circle cx="287.16" cy="377.86" r="2.5"/><circle cx="273.17" cy="377.64" r="2.5"/><circle cx="288.94" cy="377.79" r="2.5"/><circle cx="271.72" cy="381.95" r="2.5"/><circle cx="275.09" cy="381.52" r="2.5"/><circle cx="278.22" cy="381.68" r="2.5"/><circle cx="280.76" cy="381.90" r="2.5"/><circle cx="284.86" cy="381.87" r="2.5"/><circle cx="288.10" cy="381.39" r="2.5"/><circle cx="290.84" cy="381.10" r="2.5"/><circle cx="270.73" cy="384.69" r="2.5"/><circle cx="274.92" cy="384.79" r="2.5"/><circle cx="279.10" cy="384.68" r="2.5"/><circle cx="282.71" cy="384.78" r="2.5"/><circle cx="286.85" cy="384.99" r="2.5"/><circle cx="290.78" cy="385.50" r="2.5"/><circle cx="269.38" cy="384.77" r="2.5"/><circle cx="293.06" cy="384.97" r="2.5"/><circle cx="268.02" cy="389.10" r="2.5"/><circle cx="272.27" cy="388.72" r="2.5"/><circle cx="274.87" cy="388.34" r="2.5"/><circle cx="277.62" cy="388.59" r="2.5"/><circle cx="281.02" cy="389.08" r="2.5"/><circle cx="284.10" cy="388.27" r="2.5"/><circle cx="288.25" cy="388.78" r="2.5"/><circle cx="290.49" cy="388.79" r="2.5"/><circle cx="293.56" cy="388.78" r="2.5"/><circle cx="269.66" cy="392.57" r="2.5"/><circle cx="272.39" cy="392.24" r="2.5"/><circle cx="275.73" cy="392.65" r="2.5"/><circle cx="279.61" cy="392.65" r="2.5"/><circle cx="282.82" cy="392.10" r="2.5"/><circle cx="286.85" cy="392.86" r="2.5"/><circle cx="290.35" cy="392.68" r="2.5"/><circle cx="293.75" cy="392.61" r="2.5"/><circle cx="267.18" cy="392.39" r="2.5"/><circle cx="294.92" cy="391.90" r="2.5"/><circle cx="270.42" cy="395.76" r="2.5"/><circle cx="274.46" cy="396.46" r="2.5"/><circle cx="277.70" cy="396.44" r="2.5"/><circle cx="281.89" cy="396.46" r="2.5"/><circle cx="284.68" cy="395.72" r="2.5"/><circle cx="288.05" cy="395.70" r="2.5"/><circle cx="291.56" cy="396.12" r="2.5"/><circle cx="272.20" cy="399.60" r="2.5"/><circle cx="275.78" cy="399.92" r="2.5"/><circle cx="278.90" cy="399.79" r="2.5"/><circle cx="283.69" cy="399.91" r="2.5"/><circle cx="287.31" cy="399.60" r="2.5"/><circle cx="290.43" cy="399.91" r="2.5"/><circle cx="269.68" cy="399.93" r="2.5"/><circle cx="293.28" cy="399.52" r="2.5"/><circle cx="272.46" cy="403.47" r="2.5"/><circle cx="274.65" cy="402.88" r="2.5"/><circle cx="277.76" cy="403.65" r="2.5"/><circle cx="281.67" cy="402.90" r="2.5"/><circle cx="284.82" cy="403.73" r="2.5"/><circle cx="287.74" cy="403.10" r="2.5"/><circle cx="290.73" cy="402.88" r="2.5"/><circle cx="276.12" cy="407.02" r="2.5"/><circle cx="279.42" cy="407.31" r="2.5"/><circle cx="283.13" cy="407.25" r="2.5"/><circle cx="287.43" cy="406.59" r="2.5"/><circle cx="273.35" cy="406.67" r="2.5"/><circle cx="288.65" cy="406.96" r="2.5"/><circle cx="273.48" cy="410.13" r="2.5"/><circle cx="277.93" cy="410.35" r="2.5"/><circle cx="281.25" cy="410.58" r="2.5"/><circle cx="285.65" cy="410.42" r="2.5"/><circle cx="289.53" cy="410.50" r="2.5"/><circle cx="275.45" cy="413.64" r="2.5"/><circle cx="279.27" cy="413.81" r="2.5"/><circle cx="282.66" cy="414.42" r="2.5"/><circle cx="286.78" cy="414.10" r="2.5"/><circle cx="273.74" cy="414.18" r="2.5"/><circle cx="288.92" cy="414.14" r="2.5"/><circle cx="274.82" cy="417.36" r="2.5"/><circle cx="277.96" cy="417.50" r="2.5"/><circle cx="281.03" cy="418.02" r="2.5"/><circle cx="284.72" cy="417.81" r="2.5"/><circle cx="288.43" cy="418.16" r="2.5"/><circle cx="277.31" cy="421.38" r="2.5"/><circle cx="279.94" cy="421.57" r="2.5"/><circle cx="282.62" cy="421.41" r="2.5"/><circle cx="285.40" cy="421.82" r="2.5"/><circle cx="276.04" cy="421.75" r="2.5"/><circle cx="287.33" cy="421.13" r="2.5"/><circle cx="277.24" cy="425.34" r="2.5"/><circle cx="278.57" cy="424.62" r="2.5"/><circle cx="281.23" cy="424.57" r="2.5"/><circle cx="283.28" cy="424.57" r="2.5"/><circle cx="286.10" cy="425.28" r="2.5"/><circle cx="278.81" cy="428.84" r="2.5"/><circle cx="283.57" cy="428.27" r="2.5"/><circle cx="277.60" cy="429.09" r="2.5"/><circle cx="285.12" cy="429.08" r="2.5"/><circle cx="279.28" cy="432.74" r="2.5"/><circle cx="281.70" cy="431.91" r="2.5"/><circle cx="283.23" cy="432.27" r="2.5"/><circle cx="280.50" cy="435.69" r="2.5"/><circle cx="282.00" cy="435.39" r="2.5"/><circle cx="280.50" cy="435.82" r="2.5"/><circle cx="281.59" cy="435.71" r="2.5"/><circle cx="280.62" cy="439.06" r="2.5"/><circle cx="281.88" cy="439.79" r="2.5"/><circle cx="282.56" cy="439.10" r="2.5"/><circle cx="281.20" cy="316.30" r="2.5"/><circle cx="281.50" cy="326.50" r="2.5"/><circle cx="283.00" cy="327.50" r="2.5"/><circle cx="281.20" cy="333.40" r="2.5"/></g>
<g fill="#b483cf"><circle cx="328.95" cy="370.28" r="1.8"/><circle cx="328.56" cy="372.53" r="1.8"/><circle cx="330.49" cy="372.93" r="1.8"/><circle cx="328.22" cy="372.26" r="1.8"/><circle cx="331.00" cy="372.68" r="1.8"/><circle cx="326.07" cy="374.78" r="1.8"/><circle cx="329.73" cy="375.15" r="1.8"/><circle cx="331.92" cy="375.66" r="1.8"/><circle cx="327.21" cy="377.41" r="1.8"/><circle cx="329.04" cy="377.40" r="1.8"/><circle cx="330.82" cy="377.78" r="1.8"/><circle cx="331.95" cy="377.88" r="1.8"/><circle cx="326.48" cy="377.60" r="1.8"/><circle cx="332.59" cy="377.86" r="1.8"/><circle cx="326.03" cy="380.10" r="1.8"/><circle cx="328.96" cy="380.14" r="1.8"/><circle cx="332.27" cy="380.25" r="1.8"/><circle cx="325.88" cy="383.05" r="1.8"/><circle cx="327.99" cy="382.90" r="1.8"/><circle cx="330.04" cy="382.80" r="1.8"/><circle cx="332.28" cy="383.28" r="1.8"/><circle cx="325.08" cy="382.74" r="1.8"/><circle cx="333.96" cy="383.48" r="1.8"/><circle cx="325.94" cy="385.59" r="1.8"/><circle cx="327.52" cy="385.99" r="1.8"/><circle cx="329.37" cy="385.67" r="1.8"/><circle cx="331.70" cy="386.14" r="1.8"/><circle cx="333.25" cy="385.99" r="1.8"/><circle cx="324.38" cy="388.17" r="1.8"/><circle cx="326.15" cy="387.82" r="1.8"/><circle cx="328.00" cy="387.84" r="1.8"/><circle cx="330.85" cy="388.03" r="1.8"/><circle cx="332.26" cy="387.85" r="1.8"/><circle cx="335.19" cy="388.64" r="1.8"/><circle cx="323.37" cy="388.05" r="1.8"/><circle cx="335.53" cy="388.06" r="1.8"/><circle cx="322.54" cy="390.83" r="1.8"/><circle cx="324.85" cy="391.34" r="1.8"/><circle cx="327.88" cy="390.93" r="1.8"/><circle cx="329.19" cy="391.35" r="1.8"/><circle cx="331.46" cy="390.74" r="1.8"/><circle cx="333.27" cy="390.76" r="1.8"/><circle cx="336.02" cy="390.88" r="1.8"/><circle cx="323.95" cy="392.99" r="1.8"/><circle cx="325.88" cy="393.08" r="1.8"/><circle cx="328.27" cy="393.03" r="1.8"/><circle cx="330.04" cy="393.29" r="1.8"/><circle cx="332.51" cy="393.58" r="1.8"/><circle cx="335.09" cy="393.74" r="1.8"/><circle cx="323.02" cy="393.71" r="1.8"/><circle cx="336.62" cy="393.38" r="1.8"/><circle cx="322.54" cy="395.75" r="1.8"/><circle cx="324.74" cy="396.24" r="1.8"/><circle cx="326.44" cy="396.44" r="1.8"/><circle cx="329.97" cy="396.23" r="1.8"/><circle cx="332.29" cy="396.41" r="1.8"/><circle cx="334.09" cy="396.12" r="1.8"/><circle cx="337.05" cy="396.43" r="1.8"/><circle cx="322.60" cy="398.79" r="1.8"/><circle cx="325.60" cy="398.89" r="1.8"/><circle cx="328.27" cy="398.44" r="1.8"/><circle cx="330.40" cy="398.34" r="1.8"/><circle cx="333.71" cy="398.31" r="1.8"/><circle cx="337.19" cy="398.77" r="1.8"/><circle cx="320.91" cy="398.84" r="1.8"/><circle cx="338.46" cy="398.70" r="1.8"/><circle cx="322.72" cy="401.57" r="1.8"/><circle cx="324.74" cy="401.36" r="1.8"/><circle cx="327.31" cy="400.89" r="1.8"/><circle cx="329.78" cy="401.07" r="1.8"/><circle cx="331.37" cy="401.09" r="1.8"/><circle cx="334.53" cy="401.03" r="1.8"/><circle cx="336.93" cy="401.80" r="1.8"/><circle cx="322.09" cy="403.91" r="1.8"/><circle cx="325.36" cy="404.20" r="1.8"/><circle cx="328.19" cy="404.07" r="1.8"/><circle cx="330.45" cy="403.58" r="1.8"/><circle cx="333.57" cy="404.17" r="1.8"/><circle cx="336.53" cy="404.00" r="1.8"/><circle cx="320.19" cy="403.49" r="1.8"/><circle cx="337.94" cy="404.10" r="1.8"/><circle cx="319.76" cy="406.33" r="1.8"/><circle cx="322.06" cy="406.50" r="1.8"/><circle cx="324.48" cy="406.16" r="1.8"/><circle cx="327.48" cy="406.24" r="1.8"/><circle cx="330.07" cy="406.98" r="1.8"/><circle cx="331.41" cy="406.50" r="1.8"/><circle cx="334.86" cy="407.01" r="1.8"/><circle cx="336.90" cy="406.31" r="1.8"/><circle cx="339.10" cy="406.99" r="1.8"/><circle cx="321.12" cy="408.79" r="1.8"/><circle cx="323.47" cy="409.60" r="1.8"/><circle cx="325.43" cy="409.47" r="1.8"/><circle cx="328.30" cy="409.54" r="1.8"/><circle cx="330.95" cy="408.88" r="1.8"/><circle cx="333.61" cy="409.14" r="1.8"/><circle cx="334.98" cy="408.65" r="1.8"/><circle cx="337.97" cy="409.10" r="1.8"/><circle cx="319.57" cy="408.79" r="1.8"/><circle cx="339.00" cy="408.97" r="1.8"/><circle cx="317.02" cy="412.01" r="1.8"/><circle cx="321.00" cy="411.38" r="1.8"/><circle cx="324.07" cy="411.97" r="1.8"/><circle cx="327.01" cy="411.55" r="1.8"/><circle cx="329.35" cy="411.65" r="1.8"/><circle cx="333.07" cy="411.85" r="1.8"/><circle cx="335.27" cy="411.69" r="1.8"/><circle cx="338.14" cy="411.31" r="1.8"/><circle cx="340.90" cy="412.09" r="1.8"/><circle cx="319.99" cy="414.12" r="1.8"/><circle cx="322.05" cy="414.38" r="1.8"/><circle cx="324.83" cy="414.24" r="1.8"/><circle cx="328.61" cy="414.75" r="1.8"/><circle cx="331.31" cy="414.50" r="1.8"/><circle cx="334.29" cy="414.81" r="1.8"/><circle cx="336.72" cy="414.59" r="1.8"/><circle cx="338.99" cy="414.60" r="1.8"/><circle cx="317.98" cy="414.62" r="1.8"/><circle cx="341.14" cy="414.16" r="1.8"/><circle cx="318.29" cy="416.61" r="1.8"/><circle cx="320.68" cy="416.82" r="1.8"/><circle cx="323.40" cy="417.22" r="1.8"/><circle cx="327.14" cy="416.74" r="1.8"/><circle cx="329.69" cy="416.78" r="1.8"/><circle cx="332.50" cy="416.87" r="1.8"/><circle cx="334.96" cy="416.64" r="1.8"/><circle cx="337.94" cy="417.39" r="1.8"/><circle cx="341.21" cy="416.70" r="1.8"/><circle cx="317.22" cy="419.54" r="1.8"/><circle cx="319.05" cy="419.28" r="1.8"/><circle cx="321.86" cy="419.43" r="1.8"/><circle cx="324.72" cy="419.33" r="1.8"/><circle cx="327.78" cy="419.66" r="1.8"/><circle cx="331.40" cy="419.84" r="1.8"/><circle cx="333.69" cy="419.50" r="1.8"/><circle cx="336.68" cy="419.47" r="1.8"/><circle cx="339.32" cy="419.15" r="1.8"/><circle cx="342.11" cy="420.06" r="1.8"/><circle cx="314.74" cy="419.59" r="1.8"/><circle cx="343.96" cy="419.95" r="1.8"/><circle cx="316.89" cy="421.95" r="1.8"/><circle cx="319.51" cy="422.15" r="1.8"/><circle cx="322.64" cy="422.55" r="1.8"/><circle cx="325.01" cy="421.72" r="1.8"/><circle cx="326.47" cy="422.41" r="1.8"/><circle cx="329.97" cy="422.17" r="1.8"/><circle cx="332.07" cy="421.70" r="1.8"/><circle cx="334.30" cy="422.63" r="1.8"/><circle cx="337.29" cy="422.56" r="1.8"/><circle cx="339.93" cy="421.95" r="1.8"/><circle cx="341.36" cy="421.85" r="1.8"/><circle cx="321.02" cy="425.25" r="1.8"/><circle cx="323.56" cy="424.96" r="1.8"/><circle cx="326.09" cy="424.77" r="1.8"/><circle cx="328.32" cy="424.35" r="1.8"/><circle cx="331.08" cy="424.54" r="1.8"/><circle cx="333.73" cy="424.96" r="1.8"/><circle cx="335.48" cy="424.44" r="1.8"/><circle cx="337.90" cy="424.95" r="1.8"/><circle cx="319.80" cy="424.42" r="1.8"/><circle cx="338.92" cy="424.83" r="1.8"/><circle cx="321.58" cy="427.14" r="1.8"/><circle cx="324.43" cy="426.93" r="1.8"/><circle cx="326.67" cy="427.38" r="1.8"/><circle cx="330.05" cy="427.56" r="1.8"/><circle cx="332.56" cy="427.40" r="1.8"/><circle cx="334.37" cy="427.17" r="1.8"/><circle cx="337.84" cy="427.62" r="1.8"/><circle cx="323.63" cy="430.03" r="1.8"/><circle cx="326.53" cy="429.95" r="1.8"/><circle cx="328.15" cy="430.20" r="1.8"/><circle cx="331.07" cy="429.76" r="1.8"/><circle cx="332.12" cy="429.87" r="1.8"/><circle cx="334.70" cy="430.21" r="1.8"/><circle cx="322.79" cy="430.33" r="1.8"/><circle cx="336.14" cy="430.03" r="1.8"/><circle cx="324.77" cy="432.45" r="1.8"/><circle cx="327.24" cy="432.37" r="1.8"/><circle cx="329.17" cy="432.90" r="1.8"/><circle cx="331.90" cy="433.09" r="1.8"/><circle cx="334.79" cy="432.33" r="1.8"/><circle cx="326.51" cy="435.42" r="1.8"/><circle cx="329.07" cy="434.90" r="1.8"/><circle cx="330.34" cy="434.96" r="1.8"/><circle cx="332.96" cy="434.89" r="1.8"/><circle cx="325.10" cy="434.81" r="1.8"/><circle cx="333.23" cy="435.65" r="1.8"/><circle cx="326.21" cy="438.36" r="1.8"/><circle cx="328.23" cy="437.69" r="1.8"/><circle cx="329.12" cy="438.30" r="1.8"/><circle cx="331.58" cy="437.39" r="1.8"/><circle cx="333.27" cy="437.74" r="1.8"/><circle cx="328.73" cy="440.14" r="1.8"/><circle cx="329.47" cy="440.25" r="1.8"/><circle cx="328.19" cy="440.93" r="1.8"/><circle cx="330.18" cy="440.93" r="1.8"/><circle cx="329.33" cy="443.40" r="1.8"/><circle cx="329.00" cy="314.00" r="1.8"/><circle cx="329.00" cy="353.00" r="1.8"/><circle cx="330.00" cy="357.00" r="1.8"/><circle cx="329.00" cy="359.60" r="1.8"/><circle cx="329.00" cy="363.50" r="1.8"/><circle cx="328.50" cy="367.00" r="1.8"/></g>
<line x1="265.60" y1="393.30" x2="297.10" y2="393.30" stroke="#111" stroke-width="2" stroke-linecap="butt"/>
<line x1="281.50" y1="370.00" x2="281.50" y2="416.30" stroke="#111" stroke-width="2" stroke-linecap="butt"/>
<line x1="273.70" y1="370.00" x2="289.70" y2="370.00" stroke="#111" stroke-width="2" stroke-linecap="butt"/>
<line x1="273.70" y1="416.30" x2="289.70" y2="416.30" stroke="#111" stroke-width="2" stroke-linecap="butt"/>
<line x1="313.60" y1="407.90" x2="344.80" y2="407.90" stroke="#111" stroke-width="2" stroke-linecap="butt"/>
<line x1="329.30" y1="390.40" x2="329.30" y2="425.80" stroke="#111" stroke-width="2" stroke-linecap="butt"/>
<line x1="321.60" y1="390.40" x2="336.90" y2="390.40" stroke="#111" stroke-width="2" stroke-linecap="butt"/>
<line x1="321.60" y1="425.80" x2="336.90" y2="425.80" stroke="#111" stroke-width="2" stroke-linecap="butt"/>
<text x="363.00" y="260.60" font-size="24" font-weight="bold" text-anchor="start" >E</text>
<line x1="437.00" y1="287.70" x2="437.00" y2="447.50" stroke="#111" stroke-width="1.8" stroke-linecap="butt"/>
<line x1="430.50" y1="288.70" x2="437.00" y2="288.70" stroke="#111" stroke-width="1.8" stroke-linecap="butt"/>
<text x="427.30" y="291.60" font-size="14" font-weight="bold" text-anchor="end" stroke="#111" stroke-width="0.35" >2.5</text>
<line x1="430.50" y1="341.00" x2="437.00" y2="341.00" stroke="#111" stroke-width="1.8" stroke-linecap="butt"/>
<text x="427.30" y="343.90" font-size="14" font-weight="bold" text-anchor="end" stroke="#111" stroke-width="0.35" >2.0</text>
<line x1="430.50" y1="393.80" x2="437.00" y2="393.80" stroke="#111" stroke-width="1.8" stroke-linecap="butt"/>
<text x="427.30" y="396.70" font-size="14" font-weight="bold" text-anchor="end" stroke="#111" stroke-width="0.35" >1.5</text>
<line x1="430.50" y1="446.50" x2="437.00" y2="446.50" stroke="#111" stroke-width="1.8" stroke-linecap="butt"/>
<text x="427.30" y="449.40" font-size="14" font-weight="bold" text-anchor="end" stroke="#111" stroke-width="0.35" >1.0</text>
<line x1="436.00" y1="446.60" x2="542.90" y2="446.60" stroke="#111" stroke-width="1.8" stroke-linecap="butt"/>
<line x1="463.70" y1="446.60" x2="463.70" y2="453.10" stroke="#111" stroke-width="1.8" stroke-linecap="butt"/>
<text x="462.20" y="465.80" font-size="14" font-weight="bold" text-anchor="middle" stroke="#111" stroke-width="0.35" >WT</text>
<line x1="511.60" y1="446.60" x2="511.60" y2="453.10" stroke="#111" stroke-width="1.8" stroke-linecap="butt"/>
<text x="513.00" y="465.80" font-size="14" font-weight="bold" text-anchor="middle" stroke="#111" stroke-width="0.35" >LMNA</text>
<text transform="translate(394.8,360.5) rotate(-90)" font-size="15.6" font-weight="bold" text-anchor="middle">Baseline <tspan font-weight="normal">(&#956;m)</tspan></text>
<path d="M466.70,304.80 V296.20 H512.30 V304.80" fill="none" stroke="#111" stroke-width="1.8"/>
<text x="488.00" y="289.00" font-size="10" font-weight="bold" text-anchor="middle" >P&lt;0.0001</text>
<g fill="#a1a1a5"><circle cx="465.31" cy="356.55" r="2.5"/><circle cx="466.37" cy="356.87" r="2.5"/><circle cx="467.91" cy="356.69" r="2.5"/><circle cx="463.14" cy="360.16" r="2.5"/><circle cx="465.05" cy="360.94" r="2.5"/><circle cx="467.97" cy="360.17" r="2.5"/><circle cx="469.58" cy="360.19" r="2.5"/><circle cx="461.92" cy="360.38" r="2.5"/><circle cx="471.68" cy="361.02" r="2.5"/><circle cx="454.49" cy="364.71" r="2.5"/><circle cx="458.78" cy="364.01" r="2.5"/><circle cx="462.78" cy="364.07" r="2.5"/><circle cx="466.13" cy="363.75" r="2.5"/><circle cx="470.59" cy="364.67" r="2.5"/><circle cx="474.32" cy="364.69" r="2.5"/><circle cx="477.47" cy="363.98" r="2.5"/><circle cx="456.33" cy="368.33" r="2.5"/><circle cx="459.89" cy="367.63" r="2.5"/><circle cx="464.19" cy="367.87" r="2.5"/><circle cx="469.04" cy="367.56" r="2.5"/><circle cx="473.13" cy="368.11" r="2.5"/><circle cx="477.41" cy="368.15" r="2.5"/><circle cx="453.79" cy="367.70" r="2.5"/><circle cx="478.93" cy="367.74" r="2.5"/><circle cx="453.26" cy="371.20" r="2.5"/><circle cx="458.28" cy="371.25" r="2.5"/><circle cx="461.67" cy="371.03" r="2.5"/><circle cx="466.46" cy="371.33" r="2.5"/><circle cx="471.19" cy="371.88" r="2.5"/><circle cx="475.41" cy="371.26" r="2.5"/><circle cx="478.54" cy="371.10" r="2.5"/><circle cx="460.39" cy="375.07" r="2.5"/><circle cx="463.99" cy="375.04" r="2.5"/><circle cx="468.63" cy="375.30" r="2.5"/><circle cx="472.96" cy="375.47" r="2.5"/><circle cx="458.24" cy="374.75" r="2.5"/><circle cx="475.16" cy="374.92" r="2.5"/><circle cx="462.14" cy="378.99" r="2.5"/><circle cx="466.04" cy="378.50" r="2.5"/><circle cx="470.20" cy="378.40" r="2.5"/><circle cx="465.12" cy="382.20" r="2.5"/><circle cx="467.65" cy="382.87" r="2.5"/><circle cx="463.66" cy="382.11" r="2.5"/><circle cx="469.52" cy="382.53" r="2.5"/><circle cx="463.99" cy="385.97" r="2.5"/><circle cx="466.78" cy="386.34" r="2.5"/><circle cx="468.84" cy="385.54" r="2.5"/><circle cx="465.94" cy="389.31" r="2.5"/><circle cx="466.50" cy="313.50" r="2.5"/><circle cx="466.50" cy="326.50" r="2.5"/><circle cx="466.30" cy="352.00" r="2.5"/><circle cx="466.50" cy="395.00" r="2.5"/><circle cx="466.50" cy="398.50" r="2.5"/><circle cx="466.50" cy="401.60" r="2.5"/><circle cx="466.50" cy="414.50" r="2.5"/></g>
<g fill="#b483cf"><circle cx="507.46" cy="363.53" r="1.8"/><circle cx="509.48" cy="363.47" r="1.8"/><circle cx="511.84" cy="362.86" r="1.8"/><circle cx="514.50" cy="363.55" r="1.8"/><circle cx="515.97" cy="363.20" r="1.8"/><circle cx="504.75" cy="365.58" r="1.8"/><circle cx="507.38" cy="365.41" r="1.8"/><circle cx="510.24" cy="365.81" r="1.8"/><circle cx="513.44" cy="365.41" r="1.8"/><circle cx="515.40" cy="365.54" r="1.8"/><circle cx="518.92" cy="365.40" r="1.8"/><circle cx="503.50" cy="365.41" r="1.8"/><circle cx="520.43" cy="365.76" r="1.8"/><circle cx="502.26" cy="368.22" r="1.8"/><circle cx="505.85" cy="368.46" r="1.8"/><circle cx="508.35" cy="367.98" r="1.8"/><circle cx="512.13" cy="368.23" r="1.8"/><circle cx="514.70" cy="368.13" r="1.8"/><circle cx="518.55" cy="368.13" r="1.8"/><circle cx="521.15" cy="368.18" r="1.8"/><circle cx="501.70" cy="371.43" r="1.8"/><circle cx="504.14" cy="370.63" r="1.8"/><circle cx="507.61" cy="370.63" r="1.8"/><circle cx="509.79" cy="371.33" r="1.8"/><circle cx="513.33" cy="371.25" r="1.8"/><circle cx="516.35" cy="371.31" r="1.8"/><circle cx="519.45" cy="370.59" r="1.8"/><circle cx="521.96" cy="370.98" r="1.8"/><circle cx="499.91" cy="371.34" r="1.8"/><circle cx="523.57" cy="371.05" r="1.8"/><circle cx="499.14" cy="373.19" r="1.8"/><circle cx="501.42" cy="373.56" r="1.8"/><circle cx="504.75" cy="373.15" r="1.8"/><circle cx="506.78" cy="373.84" r="1.8"/><circle cx="509.91" cy="373.24" r="1.8"/><circle cx="511.45" cy="373.98" r="1.8"/><circle cx="515.02" cy="373.52" r="1.8"/><circle cx="516.47" cy="373.97" r="1.8"/><circle cx="519.43" cy="373.94" r="1.8"/><circle cx="522.26" cy="373.86" r="1.8"/><circle cx="524.26" cy="373.83" r="1.8"/><circle cx="501.63" cy="376.50" r="1.8"/><circle cx="505.04" cy="375.83" r="1.8"/><circle cx="507.21" cy="376.05" r="1.8"/><circle cx="510.47" cy="376.03" r="1.8"/><circle cx="512.90" cy="375.90" r="1.8"/><circle cx="516.52" cy="376.55" r="1.8"/><circle cx="518.61" cy="376.21" r="1.8"/><circle cx="522.37" cy="375.69" r="1.8"/><circle cx="500.70" cy="375.77" r="1.8"/><circle cx="523.63" cy="376.20" r="1.8"/><circle cx="501.35" cy="378.68" r="1.8"/><circle cx="504.26" cy="378.69" r="1.8"/><circle cx="506.93" cy="378.71" r="1.8"/><circle cx="509.25" cy="378.28" r="1.8"/><circle cx="512.04" cy="378.75" r="1.8"/><circle cx="514.16" cy="379.02" r="1.8"/><circle cx="517.39" cy="378.72" r="1.8"/><circle cx="519.25" cy="378.73" r="1.8"/><circle cx="521.74" cy="378.39" r="1.8"/><circle cx="504.55" cy="381.31" r="1.8"/><circle cx="507.80" cy="380.91" r="1.8"/><circle cx="510.69" cy="380.95" r="1.8"/><circle cx="513.55" cy="381.65" r="1.8"/><circle cx="516.03" cy="380.92" r="1.8"/><circle cx="518.76" cy="381.25" r="1.8"/><circle cx="504.21" cy="381.01" r="1.8"/><circle cx="520.56" cy="381.87" r="1.8"/><circle cx="504.87" cy="383.67" r="1.8"/><circle cx="507.54" cy="383.97" r="1.8"/><circle cx="509.98" cy="384.40" r="1.8"/><circle cx="511.50" cy="384.27" r="1.8"/><circle cx="514.89" cy="383.55" r="1.8"/><circle cx="516.66" cy="384.24" r="1.8"/><circle cx="518.90" cy="384.38" r="1.8"/><circle cx="508.36" cy="386.23" r="1.8"/><circle cx="510.60" cy="387.01" r="1.8"/><circle cx="512.86" cy="386.35" r="1.8"/><circle cx="515.82" cy="386.41" r="1.8"/><circle cx="506.12" cy="386.27" r="1.8"/><circle cx="516.71" cy="387.03" r="1.8"/><circle cx="507.37" cy="388.87" r="1.8"/><circle cx="509.74" cy="388.82" r="1.8"/><circle cx="511.94" cy="389.34" r="1.8"/><circle cx="514.24" cy="389.57" r="1.8"/><circle cx="516.97" cy="389.28" r="1.8"/><circle cx="507.94" cy="392.30" r="1.8"/><circle cx="510.89" cy="391.70" r="1.8"/><circle cx="513.42" cy="391.57" r="1.8"/><circle cx="515.98" cy="391.89" r="1.8"/><circle cx="507.08" cy="392.07" r="1.8"/><circle cx="516.48" cy="391.49" r="1.8"/><circle cx="507.74" cy="394.74" r="1.8"/><circle cx="509.80" cy="394.56" r="1.8"/><circle cx="512.48" cy="394.51" r="1.8"/><circle cx="513.90" cy="394.23" r="1.8"/><circle cx="514.92" cy="393.95" r="1.8"/><circle cx="511.21" cy="396.96" r="1.8"/><circle cx="512.75" cy="397.43" r="1.8"/><circle cx="509.79" cy="396.76" r="1.8"/><circle cx="513.75" cy="396.55" r="1.8"/><circle cx="510.69" cy="399.25" r="1.8"/><circle cx="511.73" cy="399.36" r="1.8"/><circle cx="513.04" cy="399.73" r="1.8"/><circle cx="511.46" cy="402.22" r="1.8"/><circle cx="512.05" cy="402.69" r="1.8"/><circle cx="510.42" cy="401.90" r="1.8"/><circle cx="512.59" cy="402.39" r="1.8"/><circle cx="509.91" cy="404.76" r="1.8"/><circle cx="511.62" cy="404.37" r="1.8"/><circle cx="514.41" cy="404.92" r="1.8"/><circle cx="511.67" cy="407.41" r="1.8"/><circle cx="512.83" cy="407.70" r="1.8"/><circle cx="510.78" cy="407.87" r="1.8"/><circle cx="512.17" cy="407.50" r="1.8"/><circle cx="511.02" cy="409.64" r="1.8"/><circle cx="512.23" cy="409.59" r="1.8"/><circle cx="512.53" cy="410.52" r="1.8"/><circle cx="511.54" cy="412.80" r="1.8"/><circle cx="511.88" cy="415.61" r="1.8"/><circle cx="511.51" cy="415.11" r="1.8"/><circle cx="511.85" cy="414.85" r="1.8"/><circle cx="511.50" cy="359.20" r="1.8"/></g>
<line x1="451.50" y1="370.00" x2="481.80" y2="370.00" stroke="#111" stroke-width="2" stroke-linecap="butt"/>
<line x1="466.50" y1="361.40" x2="466.50" y2="379.00" stroke="#111" stroke-width="2" stroke-linecap="butt"/>
<line x1="459.00" y1="361.40" x2="473.80" y2="361.40" stroke="#111" stroke-width="2" stroke-linecap="butt"/>
<line x1="459.00" y1="379.00" x2="473.80" y2="379.00" stroke="#111" stroke-width="2" stroke-linecap="butt"/>
<line x1="496.60" y1="379.40" x2="527.00" y2="379.40" stroke="#111" stroke-width="2" stroke-linecap="butt"/>
<line x1="512.00" y1="368.30" x2="512.00" y2="390.20" stroke="#111" stroke-width="2" stroke-linecap="butt"/>
<line x1="503.80" y1="368.30" x2="520.10" y2="368.30" stroke="#111" stroke-width="2" stroke-linecap="butt"/>
<line x1="503.80" y1="390.20" x2="520.10" y2="390.20" stroke="#111" stroke-width="2" stroke-linecap="butt"/>
<line x1="554.80" y1="307.60" x2="581.40" y2="307.60" stroke="#111" stroke-width="1.5" stroke-linecap="butt"/>
<path d="M563.2,312.2 L572.8,312.2 L568.0,303.9 Z" fill="#111" stroke="#111" stroke-width="0.9" stroke-linejoin="round"/>
<text x="597.00" y="314.80" font-size="20" font-weight="normal" text-anchor="start" >WT</text>
<line x1="554.80" y1="338.30" x2="581.40" y2="338.30" stroke="#a87bc1" stroke-width="1.5" stroke-linecap="butt"/>
<rect x="562.0" y="332.3" width="12.1" height="11.8" rx="1.6" fill="#a87bc1"/>
<text x="597.80" y="345.80" font-size="20" font-weight="normal" text-anchor="start" >LMNA</text>
</svg></body></html>
